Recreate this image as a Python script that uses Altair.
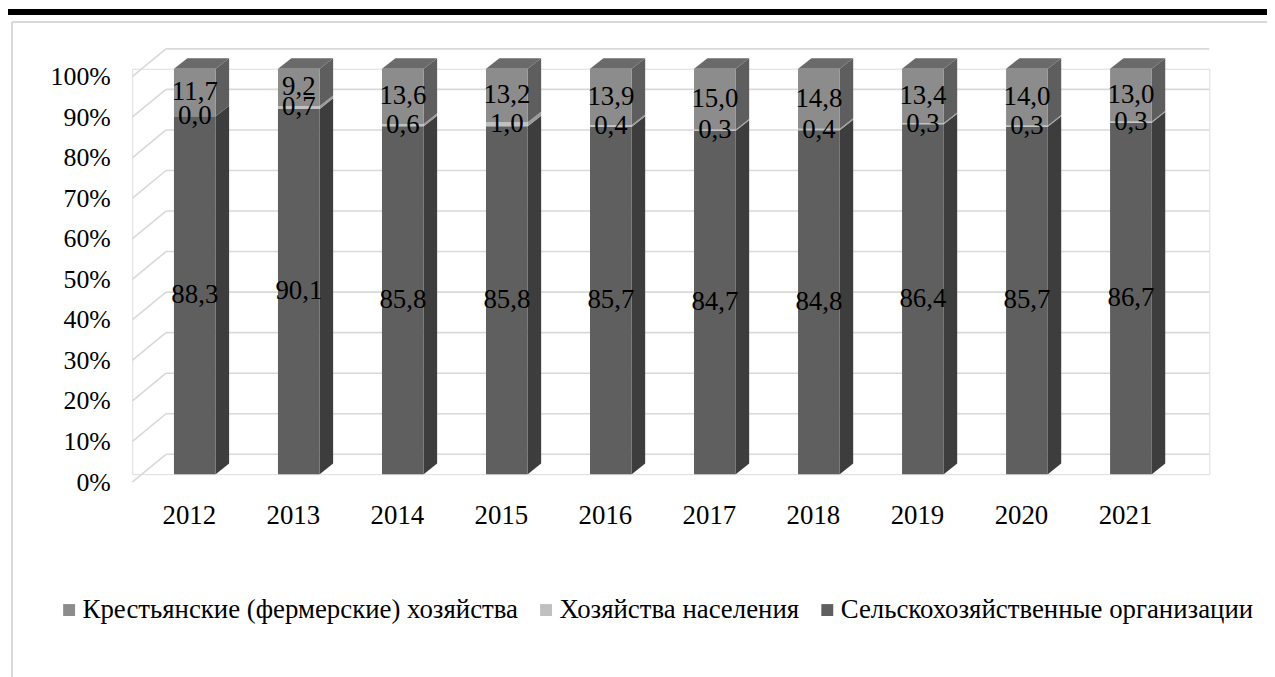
import altair as alt
import pandas as pd

years = [2012, 2013, 2014, 2015, 2016, 2017, 2018, 2019, 2020, 2021]
series_names = ["Крестьянские (фермерские) хозяйства", "Хозяйства населения", "Сельскохозяйственные организации"]
# values per series (stack bottom -> top: org, households, farms)
org = [88.3, 90.1, 85.8, 85.8, 85.7, 84.7, 84.8, 86.4, 85.7, 86.7]
hh = [0.0, 0.7, 0.6, 1.0, 0.4, 0.3, 0.4, 0.3, 0.3, 0.3]
farm = [11.7, 9.2, 13.6, 13.2, 13.9, 15.0, 14.8, 13.4, 14.0, 13.0]
ticks = [0, 10, 20, 30, 40, 50, 60, 70, 80, 90, 100]

front_col = {series_names[0]: "#8c8c8c", series_names[1]: "#c0c0c0", series_names[2]: "#5f5f5f"}
side_col = {series_names[0]: "#5e5e5e", series_names[1]: "#9c9c9c", series_names[2]: "#3d3d3d"}
top_col = "#6a6a6a"

FONT = "Liberation Serif"
W, H = 1084, 408
PL, PT = 125, 59
HALF = 0.2006   # bar half width (years)
DEP = 0.129     # depth shift (years)
DY = 2.6        # depth shift (percent)

rects, polys, labels = [], [], []
pid = 0
for i, yr in enumerate(years):
    vals = [(series_names[2], org[i]), (series_names[1], hh[i]), (series_names[0], farm[i])]
    tot = sum(v for _, v in vals)
    c = 0.0
    xl, xr = yr - HALF, yr + HALF
    for k, (s, v) in enumerate(vals):
        y0 = c / tot * 100
        c += v
        y1 = c / tot * 100
        rects.append(dict(year=yr, series=s, xl=xl, xr=xr, y0=y0, y1=y1))
        labels.append(dict(x=yr, y=(y0 + y1) / 2, t=f"{v:.1f}".replace(".", ",")))
        polys.append(dict(pid=pid, x=xr, lo=y0, hi=y1, fill=side_col[s]))
        polys.append(dict(pid=pid, x=xr + DEP, lo=y0 + DY, hi=y1 + DY, fill=side_col[s]))
        pid += 1
        if k == len(vals) - 1:
            for (xx, lo, hi) in [(xl, y1, y1), (xl + DEP, y1, y1 + DY), (xr, y1, y1 + DY), (xr + DEP, y1 + DY, y1 + DY)]:
                polys.append(dict(pid=pid, x=xx, lo=lo, hi=hi, fill=top_col))
            pid += 1

rdf = pd.DataFrame(rects)
pdf = pd.DataFrame(polys)
ldf = pd.DataFrame(labels)
gdf = pd.DataFrame({"v": ticks})

xs = alt.Scale(domain=[2011.398, 2021.754], nice=False, zero=False)
ys = alt.Scale(domain=[0, 100], nice=False)

X_AX = alt.Axis(values=years, format="d", domain=False, ticks=False, grid=False,
                labelFont=FONT, labelFontSize=27, labelColor="#000", labelPadding=29,
                labelOffset=-6, title=None)
Y_AX = alt.Axis(values=ticks, labelExpr="datum.value + '%'", domain=False, ticks=False,
                grid=False, labelFont=FONT, labelFontSize=26, labelColor="#000",
                labelPadding=22, labelOffset=8, title=None)

grid_c = "#d9d9d9"

back_grid = alt.Chart(gdf).mark_rule(color=grid_c, strokeWidth=1.6, yOffset=-20).encode(
    y=alt.Y("v:Q", scale=ys, axis=Y_AX), x=alt.value(34), x2=alt.value(W))
diag = alt.Chart(gdf).mark_rule(color=grid_c, strokeWidth=1.6, yOffset=8, y2Offset=-20).encode(
    y=alt.Y("v:Q", scale=ys, axis=Y_AX), y2="v:Q", x=alt.value(0), x2=alt.value(34))

sides = alt.Chart(pdf).mark_area(orient="vertical", interpolate="linear").encode(
    x=alt.X("x:Q", scale=xs, axis=X_AX),
    y=alt.Y("lo:Q", scale=ys, stack=None, axis=Y_AX),
    y2="hi:Q",
    detail="pid:N",
    fill=alt.Fill("fill:N", scale=None))

front = alt.Chart(rdf).mark_rect().encode(
    x=alt.X("xl:Q", scale=xs, axis=X_AX),
    x2="xr:Q",
    y=alt.Y("y0:Q", scale=ys, axis=Y_AX),
    y2="y1:Q",
    color=alt.Color("series:N", scale=alt.Scale(domain=series_names, range=[front_col[s] for s in series_names]),
                    legend=alt.Legend(orient="none", legendX=-77, legendY=531, direction="horizontal", title=None,
                                      padding=0, symbolType="square", symbolSize=144, symbolStrokeWidth=0,
                                      labelFont=FONT, labelFontSize=27, labelColor="#000", labelOffset=0,
                                      labelLimit=0, columnPadding=14)))

text = alt.Chart(ldf).mark_text(font=FONT, fontSize=27, color="#000", baseline="middle").encode(
    x=alt.X("x:Q", scale=xs, axis=X_AX), y=alt.Y("y:Q", scale=ys, axis=Y_AX), text="t:N")

frame_l = alt.Chart(gdf).mark_rule(color=grid_c, strokeWidth=1.5).encode(
    x=alt.value(-121), y=alt.value(-47), y2=alt.value(H + 210))
frame_t = alt.Chart(gdf).mark_rule(color=grid_c, strokeWidth=1.5).encode(
    x=alt.value(-121), x2=alt.value(W + 70), y=alt.value(-47))
black = alt.Chart(gdf).mark_rule(color="#000", strokeWidth=5).encode(
    x=alt.value(-PL), x2=alt.value(W + 70), y=alt.value(-57))

chart = alt.layer(frame_l, frame_t, black, back_grid, diag, sides, front, text).properties(
    width=W, height=H,
    autosize=alt.AutoSizeParams(type="none"),
    padding={"left": PL, "top": PT, "right": 58, "bottom": 202},
).configure_view(stroke=None).configure(background="white")

chart.save("out.html", embed_options={"renderer": "svg", "actions": False})
